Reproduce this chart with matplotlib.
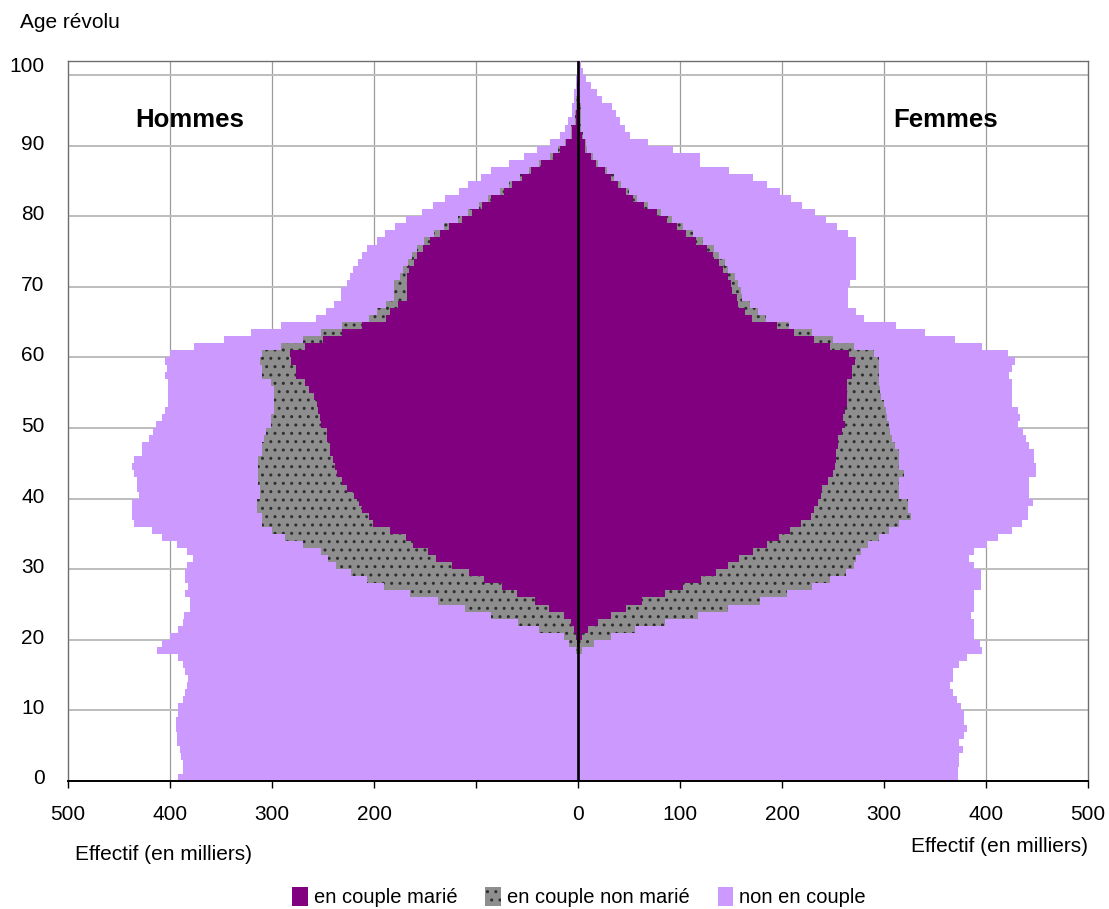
"""Pyramide des âges selon la situation de couple (Hommes / Femmes)."""

import matplotlib
matplotlib.use("Agg")
import matplotlib.pyplot as plt
from matplotlib.patches import Patch
import numpy as np

plt.rcParams.update({
    "font.family": ["Liberation Sans", "DejaVu Sans"],
    "font.size": 14,
    "hatch.linewidth": 1.0,
})

# ---------------------------------------------------------------------------
# Data (milliers), catégories d'âge 0..101
# marie = en couple marié ; couple = total en couple ; total = population
# ---------------------------------------------------------------------------
ages = np.arange(102)

hommes_marie = [
    0, 0, 0, 0, 0, 0, 0, 0, 0, 0,
    0, 0, 0, 0, 0, 0, 0, 0, 0, 0.5,
    2, 4, 7, 14, 28, 42, 60, 75, 92, 107,
    124, 139, 147, 162, 169, 184, 201, 205, 212, 215,
    220, 226, 231, 236, 238, 240, 243, 243, 246, 246,
    252, 253, 255, 256, 259, 264, 268, 276, 276, 281,
    282, 268, 250, 231, 212, 188, 184, 176, 168, 168,
    168, 168, 166, 161, 158, 152, 145, 135, 126, 114,
    104, 94, 85, 73, 65, 55, 46, 36, 25, 18,
    12, 6, 6, 2, 2, 1, 1, 0.5, 0.5, 0,
    0, 0,
]
hommes_couple = [
    0, 0, 0, 0, 0, 0, 0, 0, 0, 0,
    0, 0, 0, 0, 0, 0, 0, 0, 2, 9,
    14, 38, 59, 85, 111, 137, 165, 190, 207, 223,
    237, 245, 252, 270, 287, 300, 310, 310, 315, 315,
    312, 312, 314, 314, 314, 314, 310, 310, 308, 306,
    301, 301, 298, 298, 298, 298, 301, 310, 310, 312,
    310, 291, 270, 252, 231, 205, 197, 188, 180, 180,
    180, 175, 172, 167, 163, 158, 151, 141, 131, 118,
    108, 97, 88, 76, 68, 57, 48, 38, 27, 20,
    13, 7, 7, 3, 3, 1.5, 1.5, 0.5, 0.5, 0,
    0, 0,
]
hommes_total = [
    392, 387, 387, 389, 390, 393, 393, 394, 394, 392,
    392, 387, 385, 383, 382, 385, 387, 392, 413, 408,
    400, 392, 387, 386, 380, 380, 385, 382, 385, 385,
    383, 377, 383, 393, 408, 418, 435, 437, 437, 437,
    430, 432, 432, 435, 437, 435, 427, 427, 421, 417,
    414, 408, 405, 402, 402, 402, 402, 405, 403, 405,
    400, 376, 347, 321, 291, 257, 247, 239, 232, 232,
    226, 224, 221, 216, 212, 207, 197, 189, 179, 169,
    153, 142, 130, 117, 108, 95, 85, 68, 53, 40,
    27, 18, 13, 9.5, 6, 6, 4, 4, 2, 2,
    1, 0.5,
]

femmes_marie = [
    0, 0, 0, 0, 0, 0, 0, 0, 0, 0,
    0, 0, 0, 0, 0, 0, 0, 0, 0, 1,
    4, 10, 20, 32, 47, 63, 85, 103, 121, 135,
    147, 158, 172, 185, 197, 208, 219, 228, 231, 235,
    238, 239, 245, 250, 252, 253, 253, 255, 255, 259,
    262, 260, 262, 264, 264, 264, 264, 269, 269, 272,
    266, 247, 231, 212, 195, 171, 164, 157, 156, 151,
    150, 147, 142, 138, 132, 126, 116, 106, 97, 87,
    77, 65, 54, 47, 39, 32, 26, 18, 13, 7,
    7, 4, 2, 2, 2, 2, 1, 1, 0.5, 0,
    0, 0,
]
femmes_couple = [
    0, 0, 0, 0, 0, 0, 0, 0, 0, 0,
    0, 0, 0, 0, 0, 0, 0, 0, 4, 16,
    32, 56, 85, 118, 147, 178, 205, 229, 247, 263,
    271, 273, 277, 284, 295, 305, 315, 326, 324, 324,
    315, 315, 315, 320, 315, 315, 315, 311, 308, 306,
    305, 303, 302, 300, 297, 296, 295, 295, 295, 295,
    290, 271, 250, 229, 207, 184, 176, 169, 161, 160,
    157, 154, 147, 144, 138, 133, 123, 113, 103, 92,
    81, 69, 58, 50, 42, 35, 28, 20, 15, 9,
    8, 5, 3, 3, 2.5, 2.5, 1.5, 1, 0.5, 0,
    0, 0,
]
femmes_total = [
    373, 373, 374, 374, 377, 374, 378, 381, 378, 378,
    375, 372, 368, 365, 368, 368, 374, 381, 396, 394,
    388, 388, 388, 385, 388, 388, 388, 395, 395, 395,
    388, 383, 388, 401, 412, 425, 435, 441, 441, 446,
    442, 442, 442, 449, 449, 447, 447, 442, 439, 436,
    431, 433, 431, 425, 425, 425, 425, 423, 425, 428,
    422, 396, 370, 340, 312, 280, 273, 265, 265, 265,
    267, 273, 273, 273, 273, 273, 273, 265, 254, 243,
    232, 220, 209, 198, 185, 172, 148, 120, 120, 93,
    69, 51, 46, 41, 37, 33, 24, 19, 13, 8,
    5, 3,
]

x_ticks = [-500, -400, -300, -200, -100, 0, 100, 200, 300, 400, 500]
x_labels = ["500", "400", "300", "200", "", "0", "100", "200", "300", "400", "500"]
y_labels = ["0", "10", "20", "30", "40", "50", "60", "70", "80", "90", "100"]

C_MARIE = "#800080"
C_UNION = "#8E8E8E"
C_SEUL = "#CC99FF"

# ---------------------------------------------------------------------------
# Figure
# ---------------------------------------------------------------------------
fig = plt.figure(figsize=(11.09, 9.09), dpi=100)
ax = fig.add_axes([68 / 1109, 128 / 909, 1020 / 1109, 720 / 909])


def draw_side(marie, couple, total, sign):
    marie = np.asarray(marie, float)
    couple = np.asarray(couple, float)
    total = np.asarray(total, float)
    union = couple - marie
    seul = total - couple
    kw = dict(height=1.0, align="edge", linewidth=0, zorder=3)
    ax.barh(ages, sign * marie, color=C_MARIE, **kw)
    ax.barh(ages, sign * union, left=sign * marie, color=C_UNION,
            edgecolor="#2E2E2E", hatch="..", **kw)
    ax.barh(ages, sign * seul, left=sign * couple, color=C_SEUL, **kw)


draw_side(hommes_marie, hommes_couple, hommes_total, -1)
draw_side(femmes_marie, femmes_couple, femmes_total, 1)

ax.set_xlim(-500, 500)
ax.set_ylim(0, 102)

# grid
for xv in x_ticks[1:-1]:
    ax.axvline(xv, color="#9C9C9C", lw=0.9, zorder=1)
for yv in range(10, 101, 10):
    ax.axhline(yv, color="#BDBDBD", lw=1.4, zorder=1)
ax.axvline(0, color="black", lw=1.9, zorder=5)

ax.set_xticks(x_ticks)
ax.set_xticklabels(x_labels)
ax.tick_params(axis="x", length=5, width=1, pad=12, labelsize=15, color="black")

ax.set_yticks([0.6, 10.6, 20.5, 30.5, 40.5, 50.5, 60.5, 70.5, 80.5, 90.5, 101.5])
ax.set_yticklabels(y_labels)
ax.tick_params(axis="y", length=0, pad=17, labelsize=15)

for side in ("top", "right", "left"):
    ax.spines[side].set_color("#6E6E6E")
    ax.spines[side].set_linewidth(1.0)
ax.spines["bottom"].set_color("black")
ax.spines["bottom"].set_linewidth(1.4)
ax.spines["bottom"].set_zorder(6)

ax.text(0.1195, 0.918, "Hommes", transform=ax.transAxes, fontsize=18.5,
        fontweight="bold", ha="center", va="center")
ax.text(0.86, 0.918, "Femmes", transform=ax.transAxes, fontsize=18.5,
        fontweight="bold", ha="center", va="center")

fig.text(20 / 1109, 1 - 22 / 909, "Age révolu", fontsize=15, ha="left", va="center")
fig.text(75 / 1109, 1 - 855 / 909, "Effectif (en milliers)", fontsize=15,
         ha="left", va="center")
fig.text(1088 / 1109, 1 - 847 / 909, "Effectif (en milliers)", fontsize=15,
         ha="right", va="center")

handles = [
    Patch(facecolor=C_MARIE, label="en couple marié"),
    Patch(facecolor=C_UNION, edgecolor="#2E2E2E", hatch="..", linewidth=0,
          label="en couple non marié"),
    Patch(facecolor=C_SEUL, label="non en couple"),
]
fig.legend(handles=handles, loc="center", bbox_to_anchor=(0.522, 1 - 897 / 909),
           ncol=3, frameon=False, fontsize=14.5, handlelength=0.75,
           handleheight=1.1, handletextpad=0.3, columnspacing=1.4)

fig.savefig("out.png", dpi=100)
